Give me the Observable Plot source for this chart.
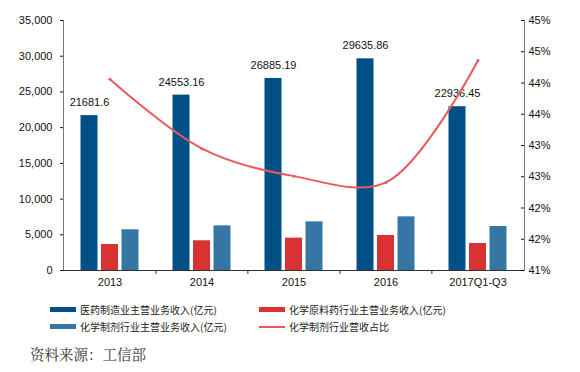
<!DOCTYPE html>
<html><head><meta charset="utf-8">
<script src="https://cdn.jsdelivr.net/npm/d3@7"></script>
<script src="https://cdn.jsdelivr.net/npm/@observablehq/plot@0.6"></script>
<style>
body{margin:0;background:#fff;font-family:"Liberation Sans",Arial,sans-serif;}
#wrap{position:relative;width:580px;height:295px;}
#wrap svg{position:absolute;left:0;top:0;}
.leg{position:absolute;font-family:"Noto Sans CJK SC",sans-serif;font-size:10px;color:#222;display:flex;align-items:center;white-space:nowrap;}
.sw{display:inline-block;width:26px;margin-right:4px;}
#src{position:absolute;left:30px;top:343px;font-family:"Noto Serif CJK SC","SimSun",serif,"Noto Sans CJK SC";font-size:14.5px;color:#333;}
</style></head>
<body>
<div id="wrap"></div>
<div class="leg" style="left:50px;top:302px"><span class="sw" style="height:5px;background:#004F86"></span>医药制造业主营业务收入(亿元)</div>
<div class="leg" style="left:259px;top:302px"><span class="sw" style="height:5px;background:#D93234"></span>化学原料药行业主营业务收入(亿元)</div>
<div class="leg" style="left:50px;top:319px"><span class="sw" style="height:5px;background:#3576A5"></span>化学制剂行业主营业务收入(亿元)</div>
<div class="leg" style="left:259px;top:319px"><span class="sw" style="height:2px;background:#E85A5C"></span>化学制剂行业营收占比</div>
<div id="src">资料来源：工信部</div>
<script>
const years = ["2013","2014","2015","2016","2017Q1-Q3"];
const pharmaRevenue = [21681.6, 24553.16, 26885.19, 29635.86, 22936.45];
const apiRevenue = [3640, 4160, 4530, 4900, 3780];
const formulationRevenue = [5700, 6250, 6810, 7510, 6160];
const formulationShare = [44.06, 42.95, 42.51, 42.41, 44.36];
const leftTicks = [0,5000,10000,15000,20000,25000,30000,35000];
const rightTicks = [41,41.5,42,42.5,43,43.5,44,44.5,45];

const W = 580, H = 295, mT = 20, mB = 25, mL = 63, mR = 56;
const step = (W - mL - mR) / years.length;
const off = 20.5;
const pad = 1 - 17 / step;

const rows = years.map((y, i) => ({year: y, pharma: pharmaRevenue[i], api: apiRevenue[i], form: formulationRevenue[i], share: formulationShare[i]}));
const xOpts = {domain: years, paddingInner: pad, paddingOuter: pad / 2, align: 0.5};
const font = {fontSize: 11, fontFamily: "Liberation Sans, Arial, sans-serif"};

const left = Plot.plot({
  width: W, height: H, marginTop: mT, marginBottom: mB, marginLeft: mL, marginRight: mR,
  style: {...font, color: "#111", background: "transparent"},
  x: {...xOpts, type: "band", label: null},
  y: {domain: [0, 35000], label: null},
  marks: [
    Plot.axisY({ticks: leftTicks, tickFormat: d3.format(","), tickSize: 3, tickPadding: 8, label: null, fontSize: 11}),
    Plot.axisX({tickSize: 0, tickPadding: 8, label: null, fontSize: 11}),
    Plot.barY(rows, {x: "year", y: "pharma", fill: "#004F86", dx: -off}),
    Plot.barY(rows, {x: "year", y: "api", fill: "#D93234"}),
    Plot.barY(rows, {x: "year", y: "form", fill: "#3576A5", dx: off}),
    Plot.text(rows, {x: "year", y: "pharma", text: d => String(d.pharma), dx: -off, dy: -13, fill: "#111", fontSize: 11}),
    Plot.frame({anchor: "left", stroke: "#777"}),
    Plot.ruleY([0], {stroke: "#333"}),
    Plot.ruleX(years.slice(1), {x: d => d, y1: 0, y2: 0, dx: -step / 2, insetBottom: -4, stroke: "#333"})
  ]
});

const right = Plot.plot({
  width: W, height: H, marginTop: mT, marginBottom: mB, marginLeft: mL, marginRight: mR,
  style: {...font, color: "#111", background: "transparent"},
  x: {...xOpts, type: "band", label: null, axis: null},
  y: {domain: [41, 45], label: null, axis: null},
  marks: [
    Plot.axisY({anchor: "right", ticks: rightTicks, tickFormat: d => Math.round(d) + "%", tickSize: -4, tickPadding: 8, label: null, fontSize: 11}),
    Plot.frame({anchor: "right", stroke: "#777"}),
    Plot.line(rows, {x: "year", y: "share", stroke: "#E85A5C", strokeWidth: 2, curve: "catmull-rom"}),
    Plot.dot(rows, {x: "year", y: "share", r: 1.5, fill: "#E85A5C"})
  ]
});

const wrap = document.getElementById("wrap");
wrap.appendChild(left);
wrap.appendChild(right);
</script>
</body></html>
